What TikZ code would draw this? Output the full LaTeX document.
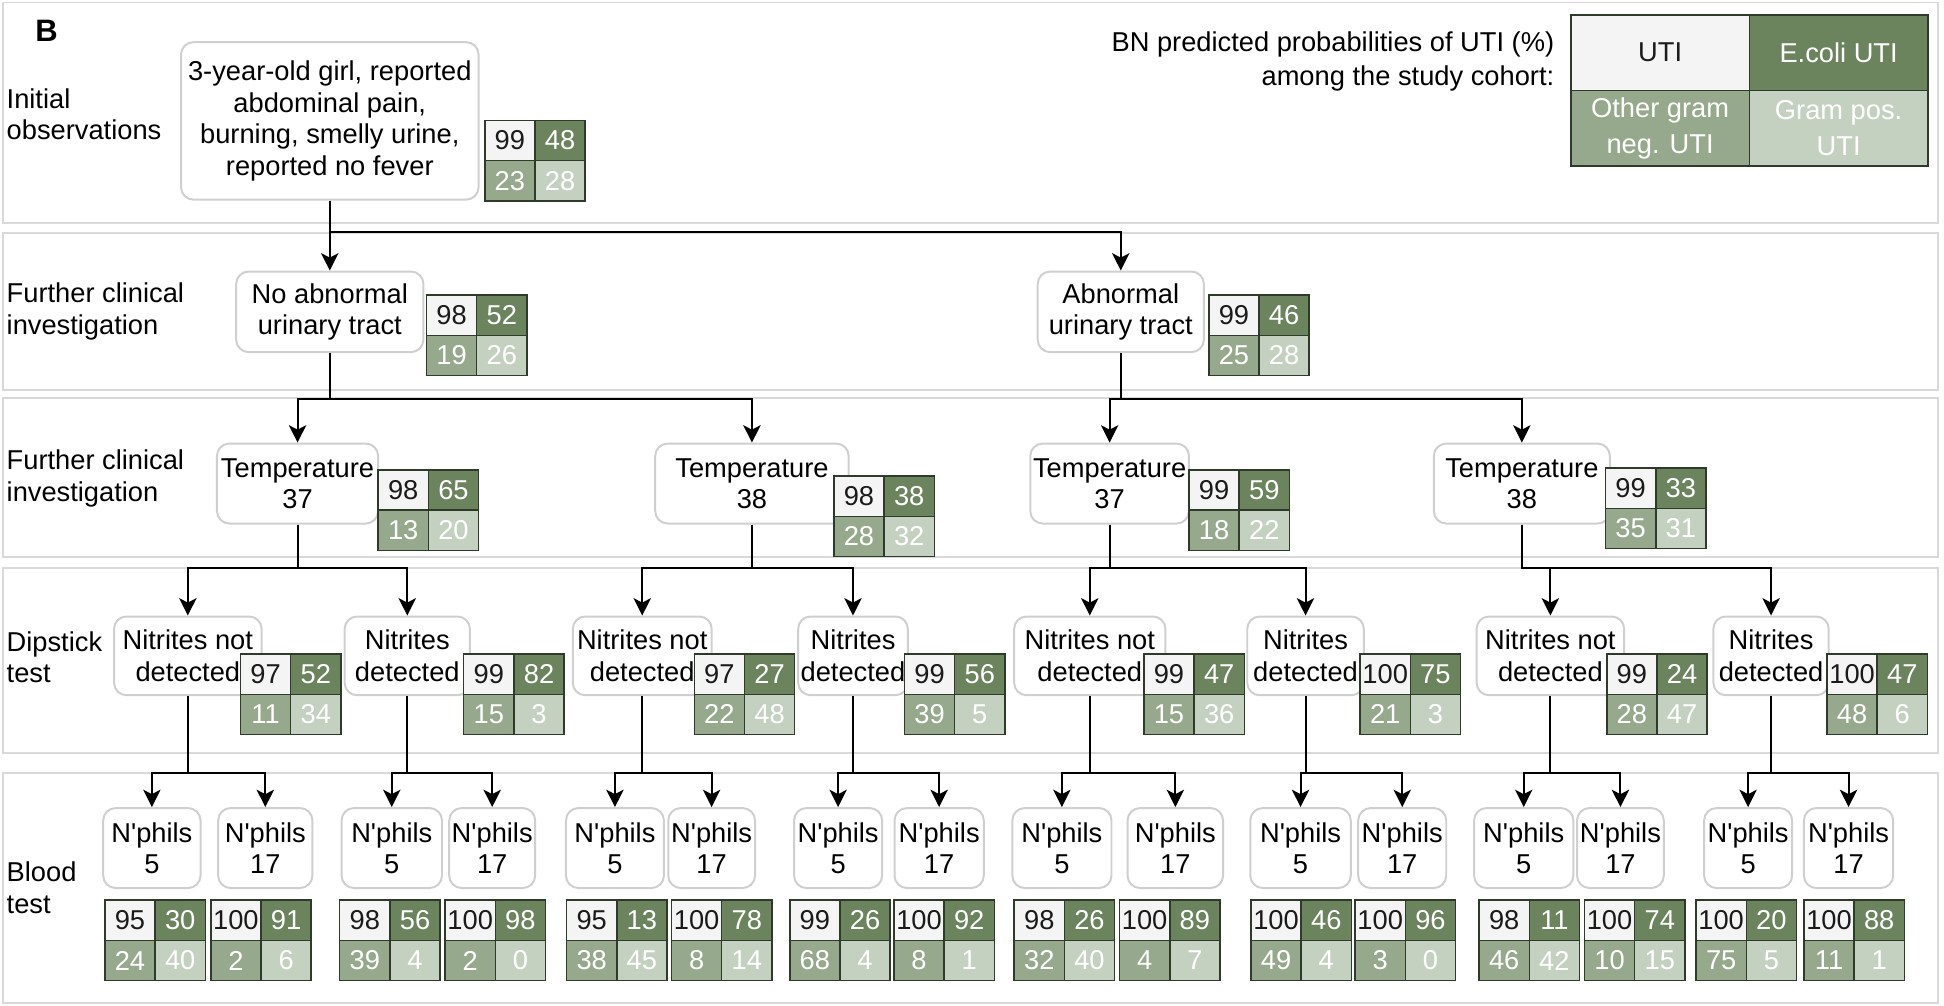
\documentclass[tikz,border=0pt]{standalone}
\usepackage{fontspec}
\setmainfont{Liberation Sans}
\definecolor{uticol}{HTML}{F4F4F4}
\definecolor{ecolicol}{HTML}{6B845E}
\definecolor{gnegcol}{HTML}{97A98C}
\definecolor{gposcol}{HTML}{C5D1C0}
\definecolor{panelline}{HTML}{D9D9D9}
\definecolor{boxline}{HTML}{CFCFCF}
\definecolor{gridline}{HTML}{2E3A2A}
\definecolor{darktext}{HTML}{1A1A1A}
\usetikzlibrary{arrows.meta}

% 2x2 grid of predicted probabilities: name, left, top, UTI, E.coli, other neg., gram pos.
\newcommand{\probgrid}[7]{%
  \node[cell, fill=uticol, text=darktext] (#1u) at (#2+20.25,#3+16.25) {#4};
  \node[cell, fill=ecolicol] (#1e) at (#2+60.75,#3+16.25) {#5};
  \node[cell, fill=gnegcol] (#1n) at (#2+20.25,#3+48.75) {#6};
  \node[cell, fill=gposcol] (#1p) at (#2+60.75,#3+48.75) {#7};
}

\begin{document}
\begin{tikzpicture}[x=0.5pt, y=-0.5pt,
		font=\fontsize{11}{12.7}\selectfont,
		panel/.style={draw=panelline, line width=0.8pt},
		lab/.style={anchor=west, align=left, inner sep=0pt},
		box/.style={draw=boxline, fill=white, line width=0.8pt, rounded corners=5pt, align=center, inner sep=1pt},
		cell/.style={draw=gridline, line width=0.6pt, minimum width=20.25pt, minimum height=16.25pt, inner sep=0pt, text=white},
		legcell/.style={draw=gridline, line width=0.6pt, minimum width=72pt, minimum height=30.5pt, inner sep=0pt, align=center, text=white, font=\fontsize{11}{14.5}\selectfont},
		link/.style={-{Stealth[length=7pt, width=7pt, inset=1.8pt]}, line width=0.8pt}
	]
	\useasboundingbox (0,0) rectangle (1568,811);
	\foreach \top/\bot in {2/180, 188/314.5, 321/449, 458/607, 623.5/809} {
			\draw[panel] (2.7,\top) rectangle (1563,\bot);
		}
	\coordinate (bar2) at (0,187);
	\coordinate (bar3) at (0,322);
	\coordinate (bar4) at (0,458.5);
	\coordinate (bar5) at (0,623.5);

	% row labels
	\node[font=\bfseries\fontsize{12.5}{14}\selectfont] (panelB) at (37.5,24.5) {B};
	\node[lab] (lab1) at (5,92) {Initial\\observations};
	\node[lab] (lab2) at (5,251) {Further clinical\\investigation};
	\node[lab] (lab3) at (5,386) {Further clinical\\investigation};
	\node[lab] (lab4) at (5,530) {Dipstick\\test};
	\node[lab] (lab5) at (5,716) {Blood\\test};

	% legend
	\node[anchor=east, align=right, inner sep=0pt, font=\fontsize{11}{13.5}\selectfont] (legtext) at (1254,49.5) {BN predicted probabilities of UTI (\%)\\among the study cohort:};
	\node[legcell, fill=uticol, text=darktext] (legu) at (1339,42.5) {UTI};
	\node[legcell, fill=ecolicol] (lege) at (1483,42.5) {E.coli UTI};
	\node[legcell, fill=gnegcol] (legn) at (1339,103.5) {Other gram\\neg. UTI};
	\node[legcell, fill=gposcol] (legp) at (1483,103.5) {Gram pos.\\UTI};

	% initial observations
	\node[box, minimum width=120pt, minimum height=63.5pt] (root) at (266,97.5) {3-year-old girl, reported\\abdominal pain,\\burning, smelly urine,\\reported no fever};
	\probgrid{groot}{391}{97}{99}{48}{23}{28}

	% urinary tract
	\node[box, minimum width=75.5pt, minimum height=32.5pt] (a1) at (266,251.5) {No abnormal\\urinary tract};
	\node[box, minimum width=67pt, minimum height=32.5pt] (a2) at (904,251.5) {Abnormal\\urinary tract};
	\probgrid{ga1}{344}{238}{98}{52}{19}{26}
	\probgrid{ga2}{975}{238}{99}{46}{25}{28}

	% temperature
	\foreach \i/\cx/\w/\deg in {1/240/130/37, 2/606.5/156/38, 3/895/128/37, 4/1227.5/142/38} {
			\node[box, minimum width=\w*0.5pt, minimum height=32.25pt] (t\i) at (\cx,390) {Temperature\\\deg};
		}
	\foreach \i/\gx/\gy/\pa/\pb/\pc/\pd in {1/305/379/98/65/13/20, 2/672.6/384/98/38/28/32, 3/959/379/99/59/18/22, 4/1295/377.5/99/33/35/31} {
			\probgrid{gt\i}{\gx}{\gy}{\pa}{\pb}{\pc}{\pd}
		}

	% dipstick
	\foreach \i/\cx/\w/\txt in {1/151.5/119/{Nitrites not\\detected}, 2/328.5/101/{Nitrites\\detected},
			3/518/112/{Nitrites not\\detected}, 4/688/88/{Nitrites\\detected},
			5/879/122/{Nitrites not\\detected}, 6/1053/94/{Nitrites\\detected},
			7/1250.5/119/{Nitrites not\\detected}, 8/1428.5/93/{Nitrites\\detected}} {
			\node[box, minimum width=\w*0.5pt, minimum height=31.75pt] (n\i) at (\cx,529) {\txt};
		}
	\foreach \i/\gx/\pa/\pb/\pc/\pd in {1/194/97/52/11/34, 2/374/99/82/15/3, 3/560/97/27/22/48, 4/729.5/99/56/39/5,
			5/922.6/99/47/15/36, 6/1097/100/75/21/3, 7/1296/99/24/28/47, 8/1473.6/100/47/48/6} {
			\probgrid{gn\i}{\gx}{527.5}{\pa}{\pb}{\pc}{\pd}
		}

	% blood test
	\foreach \i/\cx/\w/\np in {1/122.5/78.5/5, 2/214/76/17, 3/316/81/5, 4/397/68/17,
			5/496/79/5, 6/574/70/17, 7/676/71/5, 8/757.5/72/17,
			9/856.5/80/5, 10/948/77/17, 11/1049/81/5, 12/1131/71/17,
			13/1229/80/5, 14/1307/70/17, 15/1410/71/5, 16/1491/72/17} {
			\node[box, minimum width=\w*0.5pt, minimum height=32.25pt] (b\i) at (\cx,684) {N\textquotesingle phils\\\np};
		}
	\foreach \i/\gx/\pa/\pb/\pc/\pd in {1/84.6/95/30/24/40, 2/170/100/91/2/6, 3/274/98/56/39/4, 4/359/100/98/2/0,
			5/457/95/13/38/45, 6/541.6/100/78/8/14, 7/637/99/26/68/4, 8/721/100/92/8/1,
			9/818/98/26/32/40, 10/903/100/89/4/7, 11/1009/100/46/49/4, 12/1093/100/96/3/0,
			13/1193/98/11/46/42, 14/1278/100/74/10/15, 15/1368/100/20/75/5, 16/1455/100/88/11/1} {
			\probgrid{gb\i}{\gx}{726}{\pa}{\pb}{\pc}{\pd}
		}

	% connectors
	\foreach \dst in {a1, a2} {
			\draw[link] (root) -- (root |- bar2) -| (\dst);
		}
	\foreach \src/\dst in {a1/t1, a1/t2, a2/t3, a2/t4} {
			\draw[link] (\src) -- (\src |- bar3) -| (\dst);
		}
	\foreach \i in {1,...,4} {
			\pgfmathtruncatemacro\ja{2*\i-1}
			\pgfmathtruncatemacro\jb{2*\i}
			\draw[link] (t\i) -- (t\i |- bar4) -| (n\ja);
			\draw[link] (t\i) -- (t\i |- bar4) -| (n\jb);
		}
	\foreach \i in {1,...,8} {
			\pgfmathtruncatemacro\ja{2*\i-1}
			\pgfmathtruncatemacro\jb{2*\i}
			\draw[link] (n\i) -- (n\i |- bar5) -| (b\ja);
			\draw[link] (n\i) -- (n\i |- bar5) -| (b\jb);
		}
\end{tikzpicture}
\end{document}
